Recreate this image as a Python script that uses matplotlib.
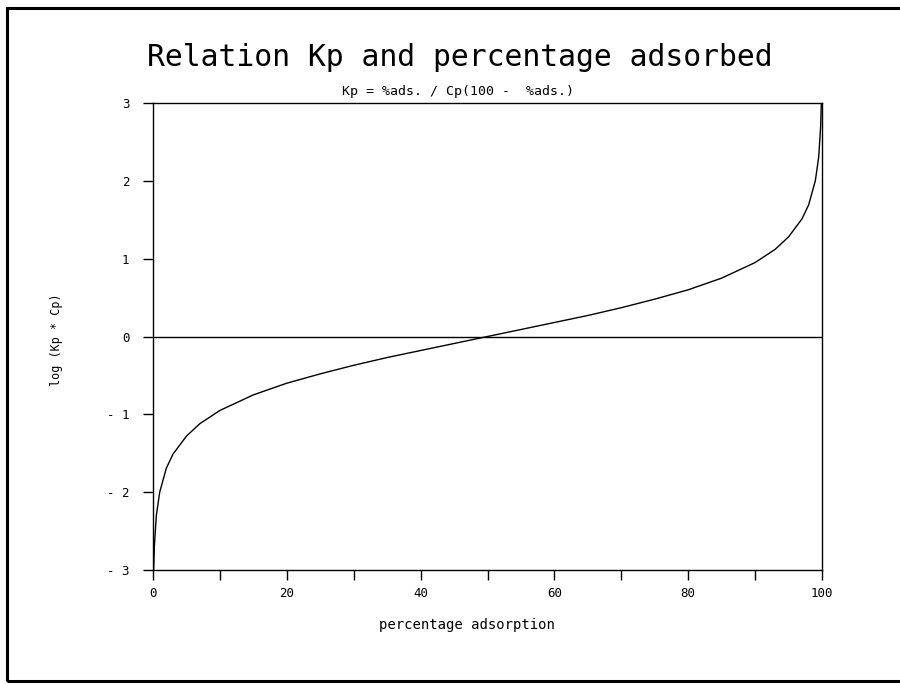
import matplotlib
matplotlib.use("Agg")
import matplotlib.pyplot as plt
from matplotlib.patches import Rectangle

# data
pct_ads = [0.1, 0.2, 0.5, 1, 2, 3, 5, 7, 10, 15, 20, 25, 30, 35, 40, 45, 50,
           55, 60, 65, 70, 75, 80, 85, 90, 93, 95, 97, 98, 99, 99.5, 99.8, 99.9]
log_kpcp = [-3.0, -2.7, -2.3, -2.0, -1.69, -1.51, -1.28, -1.12, -0.95, -0.75,
            -0.60, -0.48, -0.37, -0.27, -0.18, -0.09, 0.0, 0.09, 0.18, 0.27,
            0.37, 0.48, 0.60, 0.75, 0.95, 1.12, 1.28, 1.51, 1.69, 2.0, 2.3,
            2.7, 3.0]
x_ticks = [0, 20, 40, 60, 80, 100]
x_minor = [10, 30, 50, 70, 90]
y_ticks = [-3, -2, -1, 0, 1, 2, 3]
y_tick_labels = ["- 3", "- 2", "- 1", "0", "1", "2", "3"]
zero_x = [0, 100]
zero_y = [0, 0]

MONO = "DejaVu Sans Mono"

fig = plt.figure(figsize=(9, 6.84), dpi=100)
fig.patch.set_facecolor("white")

# page frame
fig.patches.append(Rectangle((7/900, 1-681/684), 1.1, (681-8)/684,
                             transform=fig.transFigure, fill=False,
                             edgecolor="black", linewidth=2.2))

ax = fig.add_axes([153/900, 1-570/684, (822-153)/900, (570-103)/684])
ax.plot(pct_ads, log_kpcp, color="black", linewidth=1.0)
ax.plot(zero_x, zero_y, color="black", linewidth=1.0)
ax.set_xlim(0, 100)
ax.set_ylim(-3, 3)
ax.set_xticks(x_ticks)
ax.set_xticks(x_minor, minor=True)
ax.set_yticks(y_ticks)
ax.set_yticklabels(y_tick_labels)
ax.tick_params(axis="both", which="both", direction="out", length=7,
               width=1.0, labelsize=9, colors="black")
ax.tick_params(axis="x", pad=5)
ax.tick_params(axis="y", pad=10)
for lab in ax.get_xticklabels() + ax.get_yticklabels():
    lab.set_family(MONO)
for s in ax.spines.values():
    s.set_linewidth(1.0)

ax.set_xlabel("percentage adsorption", fontsize=10, family=MONO)
ax.xaxis.set_label_coords((467-153)/669, -(618-570)/467)
ax.set_ylabel("log (Kp * Cp)", fontsize=8.5, family=MONO)
ax.yaxis.set_label_coords(-(153-63)/669, (570-340)/467)

fig.text(460/900, 1-57/684, "Relation Kp and percentage adsorbed",
         family=MONO, fontsize=21.4, ha="center", va="center",
         color="black")
fig.text(458/900, 1-92/684, "Kp = %ads. / Cp(100 -  %ads.)",
         family=MONO, fontsize=9.5, ha="center", va="center", color="black")

fig.savefig("out.png", dpi=100)
